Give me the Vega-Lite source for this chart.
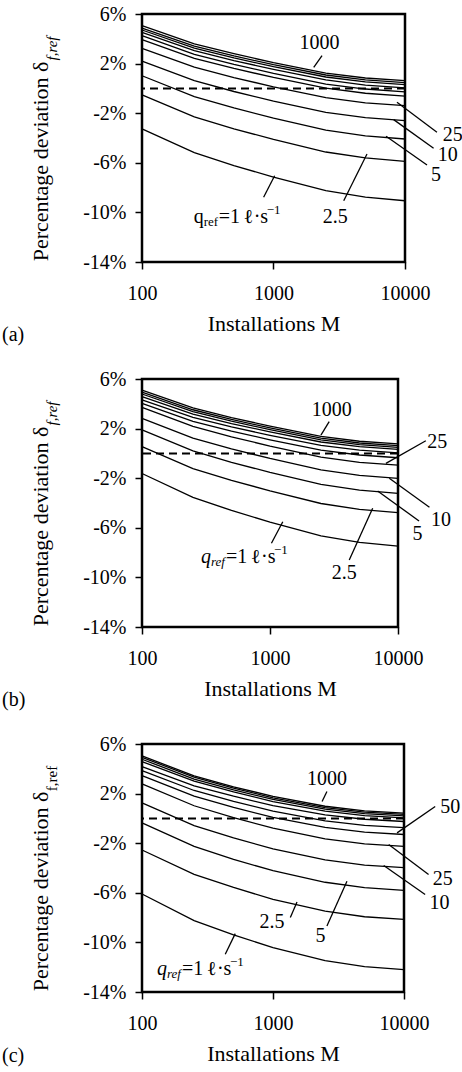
{
"$schema": "https://vega.github.io/schema/vega-lite/v6.json",
"padding": {"left": 0, "top": 2, "right": 0, "bottom": 0},
"background": "white",
"config": {
  "font": "Liberation Serif",
  "view": {"stroke": "black", "strokeWidth": 2.5},
  "axis": {"grid": false, "domain": false, "tickColor": "black", "tickWidth": 1.5, "tickSize": 7,
    "labelFont": "Liberation Serif", "labelFontSize": 20, "labelColor": "black",
    "titleFont": "Liberation Serif", "titleFontSize": 22, "titleFontWeight": "normal", "titleColor": "black"},
  "title": {"font": "Liberation Serif", "fontSize": 20, "fontWeight": "normal", "color": "black"},
  "text": {"font": "Liberation Serif", "fontSize": 20, "color": "black"}
},
"datasets": {
"la": [
{"q":1,"M":100,"d":-3.27},{"q":1,"M":250,"d":-5.18},{"q":1,"M":500,"d":-6.22},{"q":1,"M":1000,"d":-7.15},{"q":1,"M":2500,"d":-8.25},{"q":1,"M":5000,"d":-8.77},{"q":1,"M":10000,"d":-9.06},
{"q":2.5,"M":100,"d":-0.53},{"q":2.5,"M":250,"d":-2.30},{"q":2.5,"M":500,"d":-3.26},{"q":2.5,"M":1000,"d":-4.11},{"q":2.5,"M":2500,"d":-5.13},{"q":2.5,"M":5000,"d":-5.61},{"q":2.5,"M":10000,"d":-5.88},
{"q":5,"M":100,"d":1.02},{"q":5,"M":250,"d":-0.66},{"q":5,"M":500,"d":-1.58},{"q":5,"M":1000,"d":-2.40},{"q":5,"M":2500,"d":-3.37},{"q":5,"M":5000,"d":-3.83},{"q":5,"M":10000,"d":-4.08},
{"q":10,"M":100,"d":2.20},{"q":10,"M":250,"d":0.62},{"q":10,"M":500,"d":-0.25},{"q":10,"M":1000,"d":-1.02},{"q":10,"M":2500,"d":-1.93},{"q":10,"M":5000,"d":-2.36},{"q":10,"M":10000,"d":-2.60},
{"q":25,"M":100,"d":3.23},{"q":25,"M":250,"d":1.71},{"q":25,"M":500,"d":0.87},{"q":25,"M":1000,"d":0.13},{"q":25,"M":2500,"d":-0.74},{"q":25,"M":5000,"d":-1.16},{"q":25,"M":10000,"d":-1.39},
{"q":50,"M":100,"d":3.93},{"q":50,"M":250,"d":2.43},{"q":50,"M":500,"d":1.61},{"q":50,"M":1000,"d":0.88},{"q":50,"M":2500,"d":0.02},{"q":50,"M":5000,"d":-0.39},{"q":50,"M":10000,"d":-0.62},
{"q":100,"M":100,"d":4.25},{"q":100,"M":250,"d":2.75},{"q":100,"M":500,"d":1.94},{"q":100,"M":1000,"d":1.21},{"q":100,"M":2500,"d":0.35},{"q":100,"M":5000,"d":-0.05},{"q":100,"M":10000,"d":-0.28},
{"q":250,"M":100,"d":4.52},{"q":250,"M":250,"d":3.05},{"q":250,"M":500,"d":2.24},{"q":250,"M":1000,"d":1.53},{"q":250,"M":2500,"d":0.68},{"q":250,"M":5000,"d":0.27},{"q":250,"M":10000,"d":0.05},
{"q":500,"M":100,"d":4.71},{"q":500,"M":250,"d":3.25},{"q":500,"M":500,"d":2.46},{"q":500,"M":1000,"d":1.75},{"q":500,"M":2500,"d":0.92},{"q":500,"M":5000,"d":0.52},{"q":500,"M":10000,"d":0.30},
{"q":750,"M":100,"d":4.87},{"q":750,"M":250,"d":3.41},{"q":750,"M":500,"d":2.62},{"q":750,"M":1000,"d":1.91},{"q":750,"M":2500,"d":1.08},{"q":750,"M":5000,"d":0.68},{"q":750,"M":10000,"d":0.46},
{"q":1000,"M":100,"d":5.06},{"q":1000,"M":250,"d":3.59},{"q":1000,"M":500,"d":2.80},{"q":1000,"M":1000,"d":2.08},{"q":1000,"M":2500,"d":1.24},{"q":1000,"M":5000,"d":0.84},{"q":1000,"M":10000,"d":0.62}
],
"lb": [
{"q":1,"M":100,"d":-1.62},{"q":1,"M":250,"d":-3.55},{"q":1,"M":500,"d":-4.60},{"q":1,"M":1000,"d":-5.54},{"q":1,"M":2500,"d":-6.65},{"q":1,"M":5000,"d":-7.18},{"q":1,"M":10000,"d":-7.47},
{"q":2.5,"M":100,"d":0.54},{"q":2.5,"M":250,"d":-1.22},{"q":2.5,"M":500,"d":-2.17},{"q":2.5,"M":1000,"d":-3.02},{"q":2.5,"M":2500,"d":-4.04},{"q":2.5,"M":5000,"d":-4.51},{"q":2.5,"M":10000,"d":-4.78},
{"q":5,"M":100,"d":1.89},{"q":5,"M":250,"d":0.20},{"q":5,"M":500,"d":-0.72},{"q":5,"M":1000,"d":-1.53},{"q":5,"M":2500,"d":-2.50},{"q":5,"M":5000,"d":-2.96},{"q":5,"M":10000,"d":-3.22},
{"q":10,"M":100,"d":2.83},{"q":10,"M":250,"d":1.23},{"q":10,"M":500,"d":0.36},{"q":10,"M":1000,"d":-0.41},{"q":10,"M":2500,"d":-1.33},{"q":10,"M":5000,"d":-1.77},{"q":10,"M":10000,"d":-2.01},
{"q":25,"M":100,"d":3.72},{"q":25,"M":250,"d":2.18},{"q":25,"M":500,"d":1.34},{"q":25,"M":1000,"d":0.59},{"q":25,"M":2500,"d":-0.30},{"q":25,"M":5000,"d":-0.72},{"q":25,"M":10000,"d":-0.95},
{"q":50,"M":100,"d":4.04},{"q":50,"M":250,"d":2.59},{"q":50,"M":500,"d":1.80},{"q":50,"M":1000,"d":1.10},{"q":50,"M":2500,"d":0.26},{"q":50,"M":5000,"d":-0.13},{"q":50,"M":10000,"d":-0.35},
{"q":100,"M":100,"d":4.31},{"q":100,"M":250,"d":2.90},{"q":100,"M":500,"d":2.14},{"q":100,"M":1000,"d":1.46},{"q":100,"M":2500,"d":0.65},{"q":100,"M":5000,"d":0.26},{"q":100,"M":10000,"d":0.05},
{"q":250,"M":100,"d":4.57},{"q":250,"M":250,"d":3.17},{"q":250,"M":500,"d":2.41},{"q":250,"M":1000,"d":1.73},{"q":250,"M":2500,"d":0.92},{"q":250,"M":5000,"d":0.54},{"q":250,"M":10000,"d":0.33},
{"q":500,"M":100,"d":4.79},{"q":500,"M":250,"d":3.37},{"q":500,"M":500,"d":2.60},{"q":500,"M":1000,"d":1.91},{"q":500,"M":2500,"d":1.09},{"q":500,"M":5000,"d":0.71},{"q":500,"M":10000,"d":0.49},
{"q":750,"M":100,"d":4.95},{"q":750,"M":250,"d":3.52},{"q":750,"M":500,"d":2.74},{"q":750,"M":1000,"d":2.05},{"q":750,"M":2500,"d":1.23},{"q":750,"M":5000,"d":0.84},{"q":750,"M":10000,"d":0.62},
{"q":1000,"M":100,"d":5.11},{"q":1000,"M":250,"d":3.67},{"q":1000,"M":500,"d":2.89},{"q":1000,"M":1000,"d":2.20},{"q":1000,"M":2500,"d":1.37},{"q":1000,"M":5000,"d":0.98},{"q":1000,"M":10000,"d":0.76}
],
"lc": [
{"q":1,"M":100,"d":-6.10},{"q":1,"M":250,"d":-8.24},{"q":1,"M":500,"d":-9.39},{"q":1,"M":1000,"d":-10.43},{"q":1,"M":2500,"d":-11.47},{"q":1,"M":5000,"d":-11.96},{"q":1,"M":10000,"d":-12.20},
{"q":2.5,"M":100,"d":-2.55},{"q":2.5,"M":250,"d":-4.51},{"q":2.5,"M":500,"d":-5.57},{"q":2.5,"M":1000,"d":-6.53},{"q":2.5,"M":2500,"d":-7.48},{"q":2.5,"M":5000,"d":-7.93},{"q":2.5,"M":10000,"d":-8.15},
{"q":5,"M":100,"d":-0.36},{"q":5,"M":250,"d":-2.26},{"q":5,"M":500,"d":-3.30},{"q":5,"M":1000,"d":-4.22},{"q":5,"M":2500,"d":-5.15},{"q":5,"M":5000,"d":-5.58},{"q":5,"M":10000,"d":-5.80},
{"q":10,"M":100,"d":1.25},{"q":10,"M":250,"d":-0.58},{"q":10,"M":500,"d":-1.57},{"q":10,"M":1000,"d":-2.46},{"q":10,"M":2500,"d":-3.34},{"q":10,"M":5000,"d":-3.76},{"q":10,"M":10000,"d":-3.97},
{"q":25,"M":100,"d":2.78},{"q":25,"M":250,"d":1.02},{"q":25,"M":500,"d":0.06},{"q":25,"M":1000,"d":-0.79},{"q":25,"M":2500,"d":-1.65},{"q":25,"M":5000,"d":-2.05},{"q":25,"M":10000,"d":-2.25},
{"q":50,"M":100,"d":3.45},{"q":50,"M":250,"d":1.79},{"q":50,"M":500,"d":0.88},{"q":50,"M":1000,"d":0.08},{"q":50,"M":2500,"d":-0.73},{"q":50,"M":5000,"d":-1.11},{"q":50,"M":10000,"d":-1.30},
{"q":75,"M":100,"d":3.86},{"q":75,"M":250,"d":2.25},{"q":75,"M":500,"d":1.37},{"q":75,"M":1000,"d":0.59},{"q":75,"M":2500,"d":-0.20},{"q":75,"M":5000,"d":-0.57},{"q":75,"M":10000,"d":-0.75},
{"q":100,"M":100,"d":4.18},{"q":100,"M":250,"d":2.63},{"q":100,"M":500,"d":1.79},{"q":100,"M":1000,"d":1.03},{"q":100,"M":2500,"d":0.28},{"q":100,"M":5000,"d":-0.07},{"q":100,"M":10000,"d":-0.25},
{"q":250,"M":100,"d":4.58},{"q":250,"M":250,"d":3.00},{"q":250,"M":500,"d":2.13},{"q":250,"M":1000,"d":1.36},{"q":250,"M":2500,"d":0.59},{"q":250,"M":5000,"d":0.23},{"q":250,"M":10000,"d":0.05},
{"q":500,"M":100,"d":4.77},{"q":500,"M":250,"d":3.17},{"q":500,"M":500,"d":2.30},{"q":500,"M":1000,"d":1.53},{"q":500,"M":2500,"d":0.75},{"q":500,"M":5000,"d":0.38},{"q":500,"M":10000,"d":0.20},
{"q":750,"M":100,"d":4.93},{"q":750,"M":250,"d":3.32},{"q":750,"M":500,"d":2.44},{"q":750,"M":1000,"d":1.66},{"q":750,"M":2500,"d":0.87},{"q":750,"M":5000,"d":0.50},{"q":750,"M":10000,"d":0.32},
{"q":1000,"M":100,"d":5.04},{"q":1000,"M":250,"d":3.43},{"q":1000,"M":500,"d":2.55},{"q":1000,"M":1000,"d":1.77},{"q":1000,"M":2500,"d":0.98},{"q":1000,"M":5000,"d":0.61},{"q":1000,"M":10000,"d":0.43}
],
"ta": [{"t":"1000","M":2240,"d":3.66},{"t":"25","M":23100,"d":-3.74},{"t":"10","M":21100,"d":-5.35},{"t":"5","M":17200,"d":-6.98},{"t":"2.5","M":2950,"d":-10.40}],
"tb": [{"t":"1000","M":3040,"d":3.5},{"t":"25","M":20300,"d":0.88},{"t":"10","M":21700,"d":-5.37},{"t":"5","M":14200,"d":-6.52},{"t":"2.5","M":3800,"d":-9.67}],
"tc": [{"t":"1000","M":2580,"d":3.19},{"t":"50","M":22500,"d":0.90},{"t":"25","M":19800,"d":-4.92},{"t":"10","M":18700,"d":-6.80},{"t":"5","M":2300,"d":-9.48},{"t":"2.5","M":982,"d":-8.34}],
"ra": [{"M":2023,"d":1.70,"M2":2339,"d2":2.64},{"M":8690,"d":-1.12,"M2":17500,"d2":-3.54},{"M":8200,"d":-2.52,"M2":16500,"d2":-4.83},{"M":7180,"d":-3.86,"M2":14700,"d2":-6.18},{"M":5140,"d":-5.29,"M2":3420,"d2":-9.06},{"M":1020,"d":-7.04,"M2":841,"d2":-8.78}],
"rb": [{"M":2500,"d":1.48,"M2":2900,"d2":2.56},{"M":8050,"d":-0.80,"M2":16500,"d2":1.02},{"M":8550,"d":-2.01,"M2":17600,"d2":-4.35},{"M":6930,"d":-3.03,"M2":14600,"d2":-5.45},{"M":6340,"d":-4.43,"M2":4160,"d2":-8.6},{"M":1259,"d":-5.51,"M2":1026,"d2":-7.25}],
"rc": [{"M":2370,"d":1.37,"M2":2580,"d2":2.17},{"M":8850,"d":-1.17,"M2":17300,"d2":0.96},{"M":7640,"d":-2.11,"M2":15400,"d2":-4.52},{"M":7000,"d":-3.80,"M2":14500,"d2":-6.13},{"M":3670,"d":-5.06,"M2":2580,"d2":-8.67},{"M":1525,"d":-6.75,"M2":1356,"d2":-8.0},{"M":515,"d":-9.29,"M2":432,"d2":-10.95}],
"qa": [{"M":247,"d":-10.37}],
"qb": [{"M":289,"d":-8.33}],
"qc": [{"M":130,"d":-12.15}],
"ya": [{"M":20.7,"d":3.22}],
"yb": [{"M":19.8,"d":3.22}],
"yc": [{"M":20.6,"d":3.22}]
},
"spacing": 117,
"bounds": "flush",
"vconcat": [
{
 "width": 263, "height": 248,
 "title": {"text": "(a)", "orient": "bottom", "anchor": "start", "frame": "group", "dx": -140, "offset": -9},
 "layer": [
  {"data": {"name": "la"}, "mark": {"type": "line", "color": "black", "strokeWidth": 1.3},
   "encoding": {
    "x": {"field": "M", "type": "quantitative", "scale": {"type": "log", "domain": [100, 10000], "nice": false},
      "axis": {"values": [100, 1000, 10000], "format": "d", "title": "Installations M", "labelPadding": 14, "titlePadding": 10, "labelFlush": false}},
    "y": {"field": "d", "type": "quantitative", "scale": {"domain": [-14, 6], "nice": false, "zero": false},
      "axis": {"values": [-14, -10, -6, -2, 2, 6], "labelExpr": "datum.value + '%'", "labelPadding": 9, "title": "Percentage deviation δ", "titleX": -95, "titleY": 147, "titleBaseline": "alphabetic", "titleAngle": -90}},
    "detail": {"field": "q"}}},
  {"data": {"values": [{}]}, "mark": {"type": "rule", "color": "black", "strokeWidth": 2, "strokeDash": [8, 5]}, "encoding": {"y": {"datum": 0}}},
  {"data": {"name": "ra"}, "mark": {"type": "rule", "color": "black", "strokeWidth": 1.3},
   "encoding": {"x": {"field": "M", "type": "quantitative"}, "y": {"field": "d", "type": "quantitative"}, "x2": {"field": "M2"}, "y2": {"field": "d2"}}},
  {"data": {"name": "ta"}, "mark": {"type": "text", "align": "center", "baseline": "middle"},
   "encoding": {"x": {"field": "M", "type": "quantitative"}, "y": {"field": "d", "type": "quantitative"}, "text": {"field": "t"}}},
  {"data": {"name": "qa"}, "mark": {"type": "text", "text": "q", "align": "left", "baseline": "middle"}, "encoding": {"x": {"field": "M", "type": "quantitative"}, "y": {"field": "d", "type": "quantitative"}}},
  {"data": {"name": "qa"}, "mark": {"type": "text", "text": "ref", "align": "left", "baseline": "middle", "fontSize": 13, "dx": 10, "dy": 5}, "encoding": {"x": {"field": "M", "type": "quantitative"}, "y": {"field": "d", "type": "quantitative"}}},
  {"data": {"name": "qa"}, "mark": {"type": "text", "text": "=1", "align": "left", "baseline": "middle", "dx": 25}, "encoding": {"x": {"field": "M", "type": "quantitative"}, "y": {"field": "d", "type": "quantitative"}}},
  {"data": {"name": "qa"}, "mark": {"type": "text", "text": "ℓ", "align": "left", "baseline": "middle", "fontWeight": "bold", "dx": 51}, "encoding": {"x": {"field": "M", "type": "quantitative"}, "y": {"field": "d", "type": "quantitative"}}},
  {"data": {"name": "qa"}, "mark": {"type": "text", "text": "·s", "align": "left", "baseline": "middle", "dx": 60}, "encoding": {"x": {"field": "M", "type": "quantitative"}, "y": {"field": "d", "type": "quantitative"}}},
  {"data": {"name": "qa"}, "mark": {"type": "text", "text": "−1", "align": "left", "baseline": "middle", "fontSize": 13, "dx": 73, "dy": -7}, "encoding": {"x": {"field": "M", "type": "quantitative"}, "y": {"field": "d", "type": "quantitative"}}},
  {"data": {"name": "ya"}, "mark": {"type": "text", "text": "f,ref", "angle": 270, "align": "center", "baseline": "middle", "fontSize": 15, "fontStyle": "italic"}, "encoding": {"x": {"field": "M", "type": "quantitative"}, "y": {"field": "d", "type": "quantitative"}}}
 ]
},
{
 "width": 256, "height": 248,
 "title": {"text": "(b)", "orient": "bottom", "anchor": "start", "frame": "group", "dx": -140, "offset": -9},
 "layer": [
  {"data": {"name": "lb"}, "mark": {"type": "line", "color": "black", "strokeWidth": 1.3},
   "encoding": {
    "x": {"field": "M", "type": "quantitative", "scale": {"type": "log", "domain": [100, 10000], "nice": false},
      "axis": {"values": [100, 1000, 10000], "format": "d", "title": "Installations M", "labelPadding": 14, "titlePadding": 10, "labelFlush": false}},
    "y": {"field": "d", "type": "quantitative", "scale": {"domain": [-14, 6], "nice": false, "zero": false},
      "axis": {"values": [-14, -10, -6, -2, 2, 6], "labelExpr": "datum.value + '%'", "labelPadding": 9, "title": "Percentage deviation δ", "titleX": -95, "titleY": 147, "titleBaseline": "alphabetic", "titleAngle": -90}},
    "detail": {"field": "q"}}},
  {"data": {"values": [{}]}, "mark": {"type": "rule", "color": "black", "strokeWidth": 2, "strokeDash": [8, 5]}, "encoding": {"y": {"datum": 0}}},
  {"data": {"name": "rb"}, "mark": {"type": "rule", "color": "black", "strokeWidth": 1.3},
   "encoding": {"x": {"field": "M", "type": "quantitative"}, "y": {"field": "d", "type": "quantitative"}, "x2": {"field": "M2"}, "y2": {"field": "d2"}}},
  {"data": {"name": "tb"}, "mark": {"type": "text", "align": "center", "baseline": "middle"},
   "encoding": {"x": {"field": "M", "type": "quantitative"}, "y": {"field": "d", "type": "quantitative"}, "text": {"field": "t"}}},
  {"data": {"name": "qb"}, "mark": {"type": "text", "text": "q", "align": "left", "baseline": "middle", "fontStyle": "italic"}, "encoding": {"x": {"field": "M", "type": "quantitative"}, "y": {"field": "d", "type": "quantitative"}}},
  {"data": {"name": "qb"}, "mark": {"type": "text", "text": "ref", "align": "left", "baseline": "middle", "fontSize": 13, "fontStyle": "italic", "dx": 10, "dy": 5}, "encoding": {"x": {"field": "M", "type": "quantitative"}, "y": {"field": "d", "type": "quantitative"}}},
  {"data": {"name": "qb"}, "mark": {"type": "text", "text": "=1", "align": "left", "baseline": "middle", "dx": 25}, "encoding": {"x": {"field": "M", "type": "quantitative"}, "y": {"field": "d", "type": "quantitative"}}},
  {"data": {"name": "qb"}, "mark": {"type": "text", "text": "ℓ", "align": "left", "baseline": "middle", "fontWeight": "bold", "dx": 51}, "encoding": {"x": {"field": "M", "type": "quantitative"}, "y": {"field": "d", "type": "quantitative"}}},
  {"data": {"name": "qb"}, "mark": {"type": "text", "text": "·s", "align": "left", "baseline": "middle", "dx": 60}, "encoding": {"x": {"field": "M", "type": "quantitative"}, "y": {"field": "d", "type": "quantitative"}}},
  {"data": {"name": "qb"}, "mark": {"type": "text", "text": "−1", "align": "left", "baseline": "middle", "fontSize": 13, "dx": 73, "dy": -7}, "encoding": {"x": {"field": "M", "type": "quantitative"}, "y": {"field": "d", "type": "quantitative"}}},
  {"data": {"name": "yb"}, "mark": {"type": "text", "text": "f,ref", "angle": 270, "align": "center", "baseline": "middle", "fontSize": 15, "fontStyle": "italic"}, "encoding": {"x": {"field": "M", "type": "quantitative"}, "y": {"field": "d", "type": "quantitative"}}}
 ]
},
{
 "width": 262, "height": 248,
 "title": {"text": "(c)", "orient": "bottom", "anchor": "start", "frame": "group", "dx": -140, "offset": -18},
 "layer": [
  {"data": {"name": "lc"}, "mark": {"type": "line", "color": "black", "strokeWidth": 1.3},
   "encoding": {
    "x": {"field": "M", "type": "quantitative", "scale": {"type": "log", "domain": [100, 10000], "nice": false},
      "axis": {"values": [100, 1000, 10000], "format": "d", "title": "Installations M", "labelPadding": 14, "titlePadding": 10, "labelFlush": false}},
    "y": {"field": "d", "type": "quantitative", "scale": {"domain": [-14, 6], "nice": false, "zero": false},
      "axis": {"values": [-14, -10, -6, -2, 2, 6], "labelExpr": "datum.value + '%'", "labelPadding": 9, "title": "Percentage deviation δ", "titleX": -95, "titleY": 147, "titleBaseline": "alphabetic", "titleAngle": -90}},
    "detail": {"field": "q"}}},
  {"data": {"values": [{}]}, "mark": {"type": "rule", "color": "black", "strokeWidth": 2, "strokeDash": [8, 5]}, "encoding": {"y": {"datum": 0}}},
  {"data": {"name": "rc"}, "mark": {"type": "rule", "color": "black", "strokeWidth": 1.3},
   "encoding": {"x": {"field": "M", "type": "quantitative"}, "y": {"field": "d", "type": "quantitative"}, "x2": {"field": "M2"}, "y2": {"field": "d2"}}},
  {"data": {"name": "tc"}, "mark": {"type": "text", "align": "center", "baseline": "middle"},
   "encoding": {"x": {"field": "M", "type": "quantitative"}, "y": {"field": "d", "type": "quantitative"}, "text": {"field": "t"}}},
  {"data": {"name": "qc"}, "mark": {"type": "text", "text": "q", "align": "left", "baseline": "middle", "fontStyle": "italic"}, "encoding": {"x": {"field": "M", "type": "quantitative"}, "y": {"field": "d", "type": "quantitative"}}},
  {"data": {"name": "qc"}, "mark": {"type": "text", "text": "ref", "align": "left", "baseline": "middle", "fontSize": 13, "fontStyle": "italic", "dx": 10, "dy": 5}, "encoding": {"x": {"field": "M", "type": "quantitative"}, "y": {"field": "d", "type": "quantitative"}}},
  {"data": {"name": "qc"}, "mark": {"type": "text", "text": "=1", "align": "left", "baseline": "middle", "dx": 25}, "encoding": {"x": {"field": "M", "type": "quantitative"}, "y": {"field": "d", "type": "quantitative"}}},
  {"data": {"name": "qc"}, "mark": {"type": "text", "text": "ℓ", "align": "left", "baseline": "middle", "fontWeight": "bold", "dx": 51}, "encoding": {"x": {"field": "M", "type": "quantitative"}, "y": {"field": "d", "type": "quantitative"}}},
  {"data": {"name": "qc"}, "mark": {"type": "text", "text": "·s", "align": "left", "baseline": "middle", "dx": 60}, "encoding": {"x": {"field": "M", "type": "quantitative"}, "y": {"field": "d", "type": "quantitative"}}},
  {"data": {"name": "qc"}, "mark": {"type": "text", "text": "−1", "align": "left", "baseline": "middle", "fontSize": 13, "dx": 73, "dy": -7}, "encoding": {"x": {"field": "M", "type": "quantitative"}, "y": {"field": "d", "type": "quantitative"}}},
  {"data": {"name": "yc"}, "mark": {"type": "text", "text": "f,ref", "angle": 270, "align": "center", "baseline": "middle", "fontSize": 15}, "encoding": {"x": {"field": "M", "type": "quantitative"}, "y": {"field": "d", "type": "quantitative"}}}
 ]
}
]
}
